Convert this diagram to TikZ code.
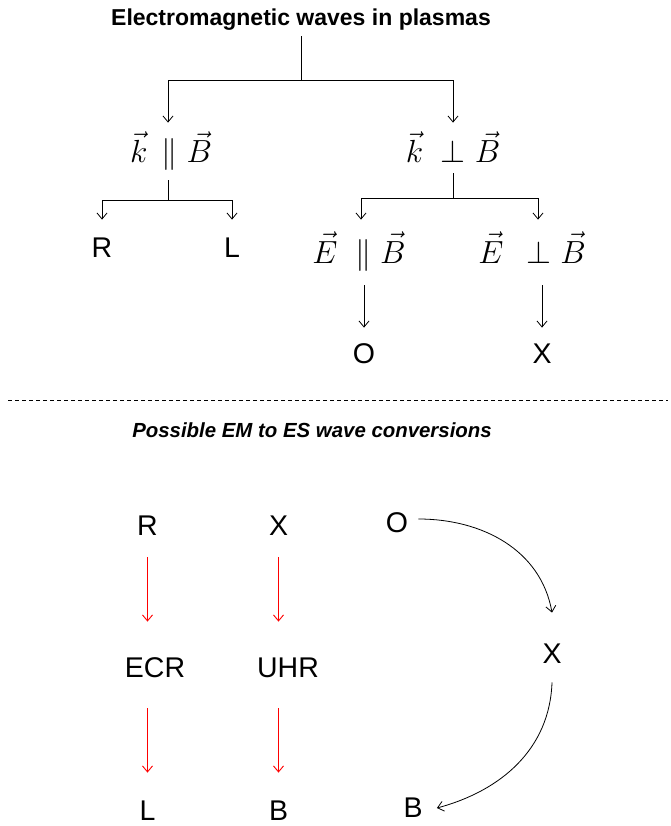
\RequirePackage{fix-cm}
\documentclass[tikz,border=0pt]{standalone}
\usepackage{fontspec}
\setmainfont{Liberation Sans}
\usetikzlibrary{arrows.meta}
\begin{document}
\begin{tikzpicture}[x=1pt,y=1pt,
  line width=0.8pt,
  arr/.style={-{Straight Barb[length=6pt,width=10pt]}},
  redarr/.style={arr,draw=red,line width=0.9pt},
  lbl/.style={font=\fontsize{28.5}{32}\selectfont,inner sep=0pt,anchor=base},
  mlbl/.style={font=\fontsize{32}{36}\selectfont,inner sep=0pt,anchor=base},
  titlelbl/.style={font=\fontsize{23}{26}\selectfont\bfseries,inner sep=0pt,anchor=base},
  subtitlelbl/.style={font=\fontsize{20.4}{24}\selectfont\bfseries\itshape,inner sep=0pt,anchor=base}]
\useasboundingbox (0,0) rectangle (670,-826);

% ---- top classification tree ----
\node[titlelbl,text depth=10pt] (title) at (301,-26) {Electromagnetic waves in plasmas};
\coordinate (j1) at (301,-80);

\node[mlbl,text height=40pt,text depth=17pt] (kpar) at (171,-163) {$\vec{k}\,\parallel\vec{B}$};
\node[mlbl,text height=40pt,text depth=10pt] (kperp) at (453,-163) {$\vec{k}\ \perp\vec{B}$};

\coordinate (j2) at (168,-200);
\coordinate (j3) at (453,-198);

\draw (title.south) -- (j1);
\draw[arr] (j1) -| (j2 |- kpar.north);
\draw[arr] (j1) -| (kperp.north);

\node[lbl,text height=37pt] (R1) at (102,-257) {R};
\node[lbl,text height=37pt] (L1) at (232,-257) {L};

\draw (kpar.south -| j2) -- (j2);
\draw[arr] (j2) -| (R1.north);
\draw[arr] (j2) -| (L1.north);

\node[mlbl,text height=43pt,text depth=22pt] (Epar) at (359,-263) {$\vec{E}\ \parallel\vec{B}$};
\node[mlbl,text height=43pt,text depth=22pt] (Eperp) at (532,-263) {$\vec{E}\ \,\perp\vec{B}$};

\draw (kperp.south) -- (j3);
\coordinate (t1) at (361,-198);
\coordinate (t2) at (538,-198);
\draw[arr] (j3) -| (t1 |- Epar.north);
\draw[arr] (j3) -| (t2 |- Eperp.north);

\node[lbl,text height=35pt] (O1) at (364,-363) {O};
\node[lbl,text height=35pt] (X1) at (542,-363) {X};

\draw[arr] (Epar.south -| O1.north) -- (O1.north);
\draw[arr] (Eperp.south -| X1.north) -- (X1.north);

% ---- separator ----
\draw[line width=0.7pt,dash pattern=on 4pt off 3pt] (8,-400) -- (668,-400);

\node[subtitlelbl] (sub) at (312,-437) {Possible EM to ES wave conversions};

% ---- conversions ----
\node[lbl,text depth=22pt] (R2) at (147.5,-535) {R};
\node[lbl,text depth=22pt] (X2) at (278.5,-535) {X};
\node[lbl,text height=55pt,text depth=31pt] (ECR) at (155,-677) {ECR};
\node[lbl,text height=55pt,text depth=31pt] (UHR) at (288,-677) {UHR};
\node[lbl,text height=47pt] (L2) at (147.5,-820) {L};
\node[lbl,text height=47pt] (B2) at (278.5,-820) {B};

\draw[redarr] (R2.south) -- (R2.south |- ECR.north);
\draw[redarr] (R2.south |- ECR.south) -- (L2.north);
\draw[redarr] (X2.south) -- (X2.south |- UHR.north);
\draw[redarr] (X2.south |- UHR.south) -- (B2.north);

\node[lbl,text height=26pt,text depth=0pt,inner xsep=10pt] (O3) at (397,-532) {O};
\node[lbl,text height=50pt,text depth=19pt] (X3) at (552,-663) {X};
\node[lbl,text height=19pt,text depth=1pt,inner xsep=14pt] (B3) at (413,-817) {B};

\draw[arr] (O3.east) to[out=0,in=100] (X3.north);
\draw[arr] (X3.south) to[out=-92,in=15] (B3.east);
\end{tikzpicture}
\end{document}
